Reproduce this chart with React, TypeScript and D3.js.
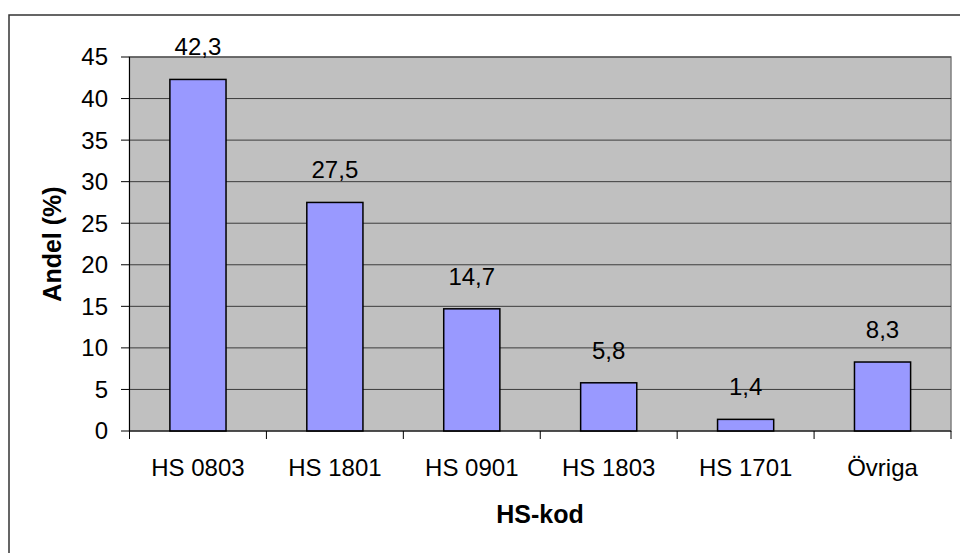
import React from "react";
import * as d3 from "d3";

const categories = ["HS 0803", "HS 1801", "HS 0901", "HS 1803", "HS 1701", "Övriga"];
const values = [42.3, 27.5, 14.7, 5.8, 1.4, 8.3];
const valueLabels = ["42,3", "27,5", "14,7", "5,8", "1,4", "8,3"];
const yTicks = [0, 5, 10, 15, 20, 25, 30, 35, 40, 45];
const yTitle = "Andel (%)";
const xTitle = "HS-kod";

export default function App() {
  const W = 960, H = 553;
  const left = 129.5, right = 951, top = 57, bottom = 431;
  const x = d3.scaleBand<string>().domain(categories).range([left, right]).paddingInner(0.59).paddingOuter(0.295);
  const xc = d3.scaleBand<string>().domain(categories).range([left, right]);
  const y = d3.scaleLinear().domain([0, 45]).range([bottom, top]);
  const font = "Liberation Sans, Arial, sans-serif";
  return (
    <svg width={W} height={H} style={{ position: "absolute", left: 0, top: 0, background: "#fff" }} fontFamily={font}>
      <rect x={9} y={15} width={1000} height={600} fill="#fff" stroke="#333" strokeWidth={1.5} />
      <rect x={left} y={top} width={right - left} height={bottom - top} fill="#c0c0c0" stroke="#808080" strokeWidth={1.5} />
      {yTicks.filter(t => t > 0).map(t => (
        <line key={"g" + t} x1={left} x2={right} y1={y(t)} y2={y(t)} stroke="#3c3c3c" strokeWidth={1} />
      ))}
      {values.map((v, i) => (
        <rect key={"b" + i} x={x(categories[i])!} y={y(v)} width={x.bandwidth()} height={y(0) - y(v)}
          fill="#9999ff" stroke="#000" strokeWidth={1.5} />
      ))}
      <line x1={left} x2={left} y1={top} y2={bottom} stroke="#000" strokeWidth={1} />
      <line x1={left} x2={right} y1={bottom} y2={bottom} stroke="#000" strokeWidth={1} />
      {yTicks.map(t => (
        <g key={"t" + t}>
          <line x1={121} x2={left} y1={y(t)} y2={y(t)} stroke="#000" strokeWidth={1} />
          <text x={108} y={y(t)} dy="0.35em" textAnchor="end" fontSize={24} fill="#000">{t}</text>
        </g>
      ))}
      {categories.map((c, i) => (
        <line key={"ct" + i} x1={xc(c)!} x2={xc(c)!} y1={bottom} y2={bottom + 8} stroke="#000" strokeWidth={1} />
      ))}
      <line x1={right} x2={right} y1={bottom} y2={bottom + 8} stroke="#000" strokeWidth={1} />
      {categories.map((c, i) => (
        <text key={"cl" + i} x={xc(c)! + xc.bandwidth() / 2} y={476} textAnchor="middle" fontSize={24} fill="#000">{c}</text>
      ))}
      {values.map((v, i) => (
        <text key={"vl" + i} x={x(categories[i])! + x.bandwidth() / 2} y={y(v) - 24} textAnchor="middle" fontSize={24} fill="#000">{valueLabels[i]}</text>
      ))}
      <text x={540} y={523} textAnchor="middle" fontSize={25} fontWeight="bold" fill="#000">{xTitle}</text>
      <text transform={`translate(61,${(top + bottom) / 2}) rotate(-90)`} textAnchor="middle" fontSize={25} fontWeight="bold" fill="#000">{yTitle}</text>
    </svg>
  );
}
